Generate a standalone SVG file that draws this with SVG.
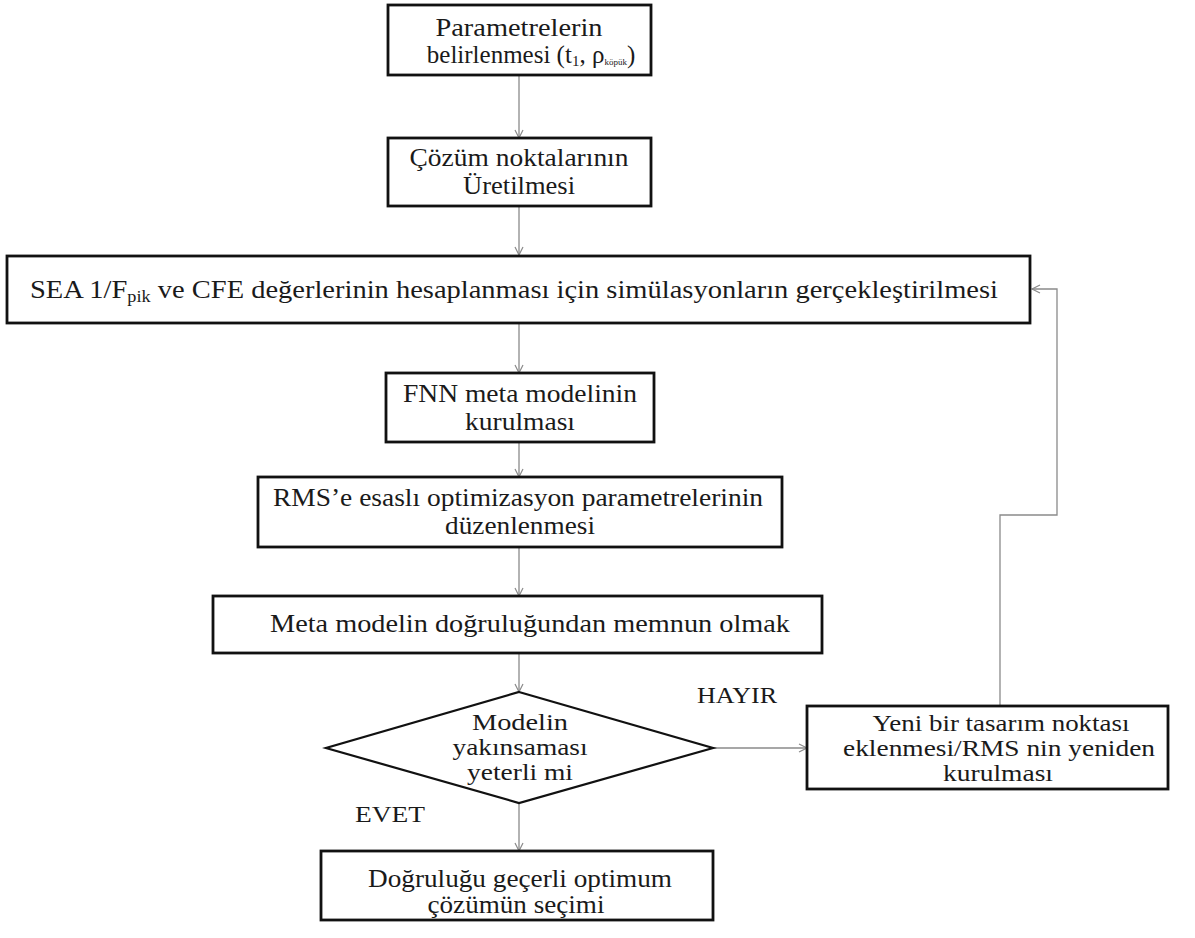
<svg xmlns="http://www.w3.org/2000/svg" width="1195" height="938" viewBox="0 0 1195 938">
<style>
.box{fill:#fff;stroke:#111;stroke-width:2.8}
.t{font-family:"Liberation Serif","DejaVu Serif","Times New Roman",serif;font-size:25px;fill:#1a1a1a;text-anchor:middle}
.s{font-size:23px}
.lbl{font-family:"Liberation Serif","DejaVu Serif","Times New Roman",serif;font-size:24px;fill:#1a1a1a}
.c{fill:none;stroke:#8a8a8a;stroke-width:1.3}
</style>
<defs>
<marker id="ah" markerWidth="12" markerHeight="12" refX="9" refY="5" orient="auto" markerUnits="userSpaceOnUse">
<path d="M1,1 L9,5 L1,9" fill="none" stroke="#8a8a8a" stroke-width="1.2"/>
</marker>
</defs>
<rect width="1195" height="938" fill="#fff"/>
<g id="connectors">
<line class="c" x1="519" y1="76" x2="519" y2="138" marker-end="url(#ah)"/>
<line class="c" x1="519" y1="206" x2="519" y2="255" marker-end="url(#ah)"/>
<line class="c" x1="519" y1="324" x2="519" y2="373" marker-end="url(#ah)"/>
<line class="c" x1="519" y1="443" x2="519" y2="477" marker-end="url(#ah)"/>
<line class="c" x1="519" y1="548" x2="519" y2="596" marker-end="url(#ah)"/>
<line class="c" x1="519" y1="654" x2="519" y2="692" marker-end="url(#ah)"/>
<line class="c" x1="519" y1="803" x2="519" y2="851" marker-end="url(#ah)"/>
<line class="c" x1="713" y1="748" x2="807" y2="748" marker-end="url(#ah)"/>
<path class="c" d="M1000,706 V515 H1057 V289 H1032" marker-end="url(#ah)"/>
</g>
<g id="n1">
<rect class="box" x="388" y="5" width="263" height="70"/>
<text class="t" x="519" y="36" textLength="167" lengthAdjust="spacingAndGlyphs">Parametrelerin</text>
<text class="t" x="531" y="63" style="font-size:25px">belirlenmesi (t<tspan font-size="15" dy="3">1</tspan><tspan dy="-3">, ρ</tspan><tspan font-size="9" dy="2">köpük</tspan><tspan dy="-2">)</tspan></text>
</g>
<g id="n2">
<rect class="box" x="388" y="138" width="263" height="68"/>
<text class="t" x="519" y="166" textLength="219" lengthAdjust="spacingAndGlyphs">Çözüm noktalarının</text>
<text class="t" x="519" y="194" textLength="112" lengthAdjust="spacingAndGlyphs">Üretilmesi</text>
</g>
<g id="n3">
<rect class="box" x="7" y="256" width="1023" height="67"/>
<text class="t" x="30" y="298" style="text-anchor:start" textLength="968" lengthAdjust="spacingAndGlyphs">SEA  1/F<tspan font-size="16" dy="4">pik</tspan><tspan dy="-4"> ve CFE değerlerinin hesaplanması için simülasyonların gerçekleştirilmesi</tspan></text>
</g>
<g id="n4">
<rect class="box" x="386" y="373" width="268" height="69"/>
<text class="t" x="520" y="402" textLength="234" lengthAdjust="spacingAndGlyphs">FNN meta modelinin</text>
<text class="t" x="520" y="430" textLength="110" lengthAdjust="spacingAndGlyphs">kurulması</text>
</g>
<g id="n5">
<rect class="box" x="258" y="477" width="524" height="70"/>
<text class="t" x="518" y="506" textLength="490" lengthAdjust="spacingAndGlyphs">RMS’e esaslı optimizasyon parametrelerinin</text>
<text class="t" x="520" y="534" textLength="150" lengthAdjust="spacingAndGlyphs">düzenlenmesi</text>
</g>
<g id="n6">
<rect class="box" x="213" y="596" width="609" height="57"/>
<text class="t" x="530" y="632" textLength="520" lengthAdjust="spacingAndGlyphs">Meta modelin doğruluğundan memnun olmak</text>
</g>
<g id="n7">
<polygon points="519,692 713,748 519,803 326,748" fill="#fff" stroke="#111" stroke-width="2.2"/>
<text class="t s" x="520" y="730" textLength="96" lengthAdjust="spacingAndGlyphs">Modelin</text>
<text class="t s" x="520" y="755" textLength="135" lengthAdjust="spacingAndGlyphs">yakınsaması</text>
<text class="t s" x="520" y="780" textLength="106" lengthAdjust="spacingAndGlyphs">yeterli mi</text>
</g>
<g id="n8">
<rect class="box" x="807" y="706" width="361" height="83"/>
<text class="t s" x="1001" y="731" textLength="257" lengthAdjust="spacingAndGlyphs">Yeni bir tasarım noktası</text>
<text class="t s" x="999" y="756" textLength="312" lengthAdjust="spacingAndGlyphs">eklenmesi/RMS nin yeniden</text>
<text class="t s" x="998" y="781" textLength="110" lengthAdjust="spacingAndGlyphs">kurulması</text>
</g>
<g id="n9">
<rect class="box" x="321" y="851" width="392" height="69"/>
<text class="t" x="520" y="887" textLength="304" lengthAdjust="spacingAndGlyphs">Doğruluğu geçerli optimum</text>
<text class="t" x="516" y="913" textLength="177" lengthAdjust="spacingAndGlyphs">çözümün seçimi</text>
</g>
<g id="labels">
<text class="lbl" x="697" y="703" textLength="80" lengthAdjust="spacingAndGlyphs">HAYIR</text>
<text class="lbl" x="355" y="822" textLength="70" lengthAdjust="spacingAndGlyphs">EVET</text>
</g>
</svg>
